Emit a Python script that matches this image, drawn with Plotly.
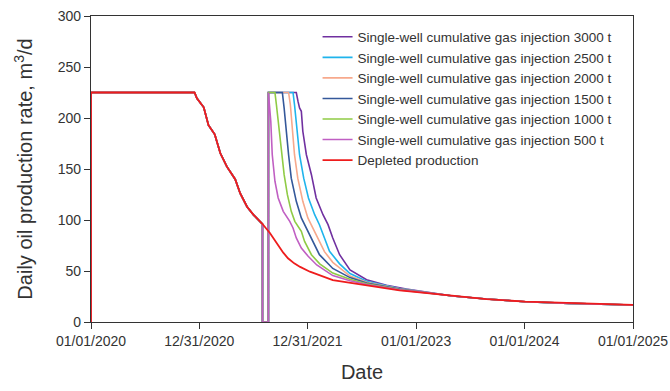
import plotly.graph_objects as go

# ---- Depleted production (no gas injection) ----
depleted_dates = [
    "2020-01-01", "2020-01-01", "2020-12-15", "2020-12-23", "2021-01-15",
    "2021-01-31", "2021-02-21", "2021-03-12", "2021-04-03", "2021-05-01",
    "2021-05-18", "2021-06-10", "2021-07-02", "2021-07-30", "2021-08-26",
    "2021-09-10", "2021-09-23", "2021-10-10", "2021-10-26", "2021-11-16",
    "2021-12-06", "2022-01-08", "2022-03-26", "2022-05-23", "2022-07-18",
    "2022-11-06", "2023-01-13", "2023-05-04", "2023-08-26", "2024-01-04",
    "2024-05-31", "2025-01-01",
]
depleted_rate = [
    0, 225, 225, 219.3, 210.5,
    193, 184, 165.4, 152.3, 140,
    126, 113, 105, 96.8, 87.3,
    80.5, 75, 68, 62.5, 57.5,
    54, 49.3, 41, 38.5, 35.5,
    31, 29, 25.5, 22.5, 19.9,
    18.3, 16.7,
]

# Shared history before the injection shut-in (same as depleted curve)
pre_end = depleted_dates.index("2021-07-30") + 1
pre_dates = depleted_dates[:pre_end]
pre_rate = depleted_rate[:pre_end]

# Shut-in for injection, then restart at the plateau rate
shutin_dates = ["2021-08-01", "2021-08-01", "2021-08-21", "2021-08-21"]
shutin_rate = [96, 0, 0, 225]

# Late-time decline shared by all cases once they merge
tail_dates = ["2023-05-04", "2023-08-26", "2024-01-04", "2024-05-31", "2025-01-01"]
tail_rate = [25.5, 22.5, 19.9, 18.3, 16.7]

# ---- Post-injection response, per cumulative injected gas volume ----
inj_500_dates = [
    "2021-08-29", "2021-09-03", "2021-09-12", "2021-09-23", "2021-10-10",
    "2021-11-01", "2021-11-12", "2021-11-23", "2021-12-10", "2022-01-02",
    "2022-01-31", "2022-03-26", "2022-05-23", "2022-07-18", "2022-11-06",
    "2023-02-16",
]
inj_500_rate = [
    196.8, 164, 138, 121.6, 108.5,
    98.7, 92.2, 82.4, 72.5, 64.4,
    55.9, 45.5, 40.5, 36.8, 31.5,
    28.3,
]

inj_1000_dates = [
    "2021-09-12", "2021-09-17", "2021-09-23", "2021-09-28", "2021-10-04",
    "2021-10-13", "2021-10-24", "2021-11-06", "2021-11-18", "2021-12-10",
    "2021-12-21", "2022-01-13", "2022-02-10", "2022-03-26", "2022-05-23",
    "2022-07-18", "2022-11-06", "2023-02-16",
]
inj_1000_rate = [
    225, 213, 196.8, 180, 164,
    144.4, 124.8, 108.5, 98.7, 88.9,
    79, 66, 57, 48, 42,
    37.5, 31.8, 28.4,
]

inj_1500_dates = [
    "2021-10-07", "2021-10-13", "2021-10-20", "2021-10-28", "2021-11-06",
    "2021-11-23", "2021-12-10", "2021-12-27", "2022-01-07", "2022-01-24",
    "2022-02-09", "2022-03-26", "2022-05-23", "2022-07-18", "2022-11-06",
    "2023-02-16",
]
inj_1500_rate = [
    225, 209.8, 187, 164, 141,
    118.3, 102, 92, 85.6, 75.8,
    66, 52.5, 43.5, 38.3, 32.2,
    28.5,
]

inj_2000_dates = [
    "2021-10-28", "2021-11-03", "2021-11-09", "2021-11-17", "2021-11-28",
    "2021-12-15", "2022-01-01", "2022-01-18", "2022-02-04", "2022-02-26",
    "2022-03-26", "2022-05-23", "2022-07-18", "2022-11-06", "2023-02-16",
]
inj_2000_rate = [
    225, 213, 190, 164, 141,
    118.3, 102, 92, 82.4, 69,
    58.5, 45, 39, 32.5, 28.6,
]

inj_2500_dates = [
    "2021-11-12", "2021-11-17", "2021-11-26", "2021-12-04", "2021-12-18",
    "2022-01-03", "2022-01-24", "2022-02-09", "2022-02-26", "2022-03-15",
    "2022-04-18", "2022-05-23", "2022-07-18", "2022-11-06", "2023-02-16",
]
inj_2500_rate = [
    225, 213, 190, 164, 141,
    121.6, 105.2, 95.4, 82.4, 69.3,
    57, 47.5, 40, 32.8, 28.7,
]

inj_3000_dates = [
    "2021-11-23", "2021-11-29", "2021-12-04", "2021-12-10", "2021-12-15",
    "2021-12-27", "2022-01-13", "2022-01-29", "2022-02-21", "2022-03-10",
    "2022-03-26", "2022-04-18", "2022-05-23", "2022-07-18", "2022-09-23",
    "2022-11-29", "2023-02-16",
]
inj_3000_rate = [
    225, 216, 209.8, 206.6, 187,
    164, 144.4, 121.6, 105.2, 95.4,
    82.4, 66, 51, 41.5, 36,
    32.3, 28.8,
]

# Legend labels and line colours (drawn in this order; depleted last, on top)
cases = [
    ("Single-well cumulative gas injection 3000 t", inj_3000_dates, inj_3000_rate, "#7030A0"),
    ("Single-well cumulative gas injection 2500 t", inj_2500_dates, inj_2500_rate, "#1FB4EC"),
    ("Single-well cumulative gas injection 2000 t", inj_2000_dates, inj_2000_rate, "#F7A98C"),
    ("Single-well cumulative gas injection 1500 t", inj_1500_dates, inj_1500_rate, "#34589A"),
    ("Single-well cumulative gas injection 1000 t", inj_1000_dates, inj_1000_rate, "#8FCB45"),
    ("Single-well cumulative gas injection 500 t", inj_500_dates, inj_500_rate, "#C05FC3"),
]
depleted_label = "Depleted production"
depleted_color = "#EE1C1C"

x_tick_vals = ["2020-01-01", "2020-12-31", "2021-12-31", "2023-01-01", "2024-01-01", "2025-01-01"]
x_tick_text = ["01/01/2020", "12/31/2020", "12/31/2021", "01/01/2023", "01/01/2024", "01/01/2025"]
y_tick_vals = [0, 50, 100, 150, 200, 250, 300]

FONT = "Arial, Liberation Sans, sans-serif"

fig = go.Figure()

for name, dates, rate, color in cases:
    fig.add_trace(go.Scatter(
        x=pre_dates + shutin_dates + dates + tail_dates,
        y=pre_rate + shutin_rate + rate + tail_rate,
        mode="lines",
        name=name,
        line=dict(color=color, width=1.6),
    ))

fig.add_trace(go.Scatter(
    x=depleted_dates,
    y=depleted_rate,
    mode="lines",
    name=depleted_label,
    line=dict(color=depleted_color, width=1.8),
))

axis_common = dict(
    showline=True,
    linecolor="#333333",
    linewidth=1.3,
    mirror=True,
    ticks="outside",
    ticklen=6,
    tickwidth=1.3,
    tickcolor="#333333",
    showgrid=False,
    zeroline=False,
    automargin=False,
    tickfont=dict(family=FONT, size=14, color="#333333"),
)

fig.update_xaxes(
    type="date",
    range=["2020-01-01", "2025-01-01"],
    tickvals=x_tick_vals,
    ticktext=x_tick_text,
    title=dict(text="Date", font=dict(family=FONT, size=20, color="#333333"), standoff=17),
    **axis_common,
)
fig.update_yaxes(
    range=[0, 300],
    tickvals=y_tick_vals,
    title=dict(text="Daily oil production rate, m<sup>3</sup>/d",
               font=dict(family=FONT, size=20, color="#333333"), standoff=19),
    **axis_common,
)

fig.update_layout(
    width=670,
    height=391,
    margin=dict(l=91, r=37, t=16, b=69),
    paper_bgcolor="white",
    plot_bgcolor="white",
    font=dict(family=FONT, size=14, color="#333333"),
    showlegend=True,
    legend=dict(
        x=0.418,
        y=0.982,
        xanchor="left",
        yanchor="top",
        bgcolor="rgba(0,0,0,0)",
        borderwidth=0,
        tracegroupgap=0,
        font=dict(family=FONT, size=13.5, color="#333333"),
    ),
)

fig.write_html("out.html")
